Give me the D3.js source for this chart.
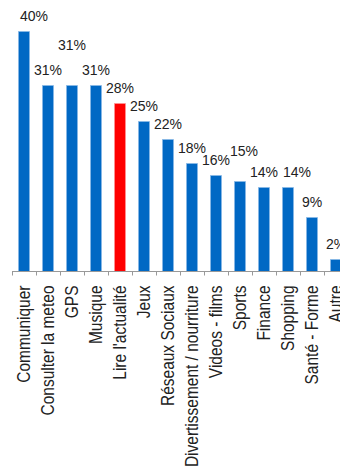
<!DOCTYPE html>
<meta charset="utf-8">
<script src="https://d3js.org/d3.v7.min.js"></script>
<style>
  body { margin: 0; background: #fff; }
  text { font-family: "Liberation Sans", Arial, sans-serif; fill: #222; }
</style>
<body>
<div id="chart"></div>
<script>
// categories and values (percent)
var categories = ["Communiquer", "Consulter la meteo", "GPS", "Musique", "Lire l'actualité",
  "Jeux", "Réseaux Sociaux", "Divertissement / nourriture", "Videos - films", "Sports",
  "Finance", "Shopping", "Santé - Forme", "Autre"];
var values = [40, 31, 31, 31, 28, 25, 22, 18, 16, 15, 14, 14, 9, 2];
var highlight = "Lire l'actualité";

var width = 340, height = 472;
var baseY = 271.5;

var svg = d3.select("#chart").append("svg")
    .attr("width", width)
    .attr("height", height);

var x = d3.scaleBand()
    .domain(categories)
    .range([12, 12 + 24 * categories.length])
    .paddingInner(0.54)
    .paddingOuter(0.27);

var y = d3.scaleLinear()
    .domain([0, 40])
    .range([baseY, baseY - 240]);

// bars
svg.selectAll(".bar")
    .data(categories)
    .enter().append("rect")
    .attr("class", "bar")
    .attr("x", function(d) { return x(d); })
    .attr("width", x.bandwidth())
    .attr("y", function(d, i) { return y(values[i]); })
    .attr("height", function(d, i) { return baseY - y(values[i]); })
    .attr("fill", function(d) { return d == highlight ? "#ff0000" : "#0068c4"; })
    .attr("stroke", function(d) { return d == highlight ? "#ff9a9a" : "#8dbbe8"; })
    .attr("stroke-width", 0.6);

// axis line + ticks
var bounds = categories.map(function(d, i) { return 12 + 24 * i; });
svg.append("line")
    .attr("x1", 12).attr("x2", width)
    .attr("y1", baseY).attr("y2", baseY)
    .attr("stroke", "#999").attr("stroke-width", 1);
svg.selectAll(".tick")
    .data(bounds)
    .enter().append("line")
    .attr("x1", function(d) { return d + 0.5; })
    .attr("x2", function(d) { return d + 0.5; })
    .attr("y1", baseY).attr("y2", baseY + 4)
    .attr("stroke", "#999");

// value labels (a few are nudged like in the original to avoid overlap)
var nudge = { 0: [10, 0], 2: [0, -25], 9: [4, -15], 11: [9, 0] };
svg.selectAll(".val")
    .data(categories)
    .enter().append("text")
    .attr("class", "val")
    .attr("text-anchor", "middle")
    .style("font-size", "14px")
    .attr("x", function(d, i) { return x(d) + x.bandwidth() / 2 + (nudge[i] ? nudge[i][0] : 0); })
    .attr("y", function(d, i) { return y(values[i]) - 10.5 + (nudge[i] ? nudge[i][1] : 0); })
    .text(function(d, i) { return values[i] + "%"; });

// category labels, rotated
svg.selectAll(".cat")
    .data(categories)
    .enter().append("text")
    .attr("class", "cat")
    .attr("text-anchor", "end")
    .attr("dy", "0.36em")
    .style("font-size", "15.5px")
    .attr("transform", function(d) {
        return "translate(" + (x(d) + x.bandwidth() / 2) + "," + 285.5 + ") scale(1.15,1) rotate(-90)";
    })
    .text(function(d) { return d; });
</script>
</body>
